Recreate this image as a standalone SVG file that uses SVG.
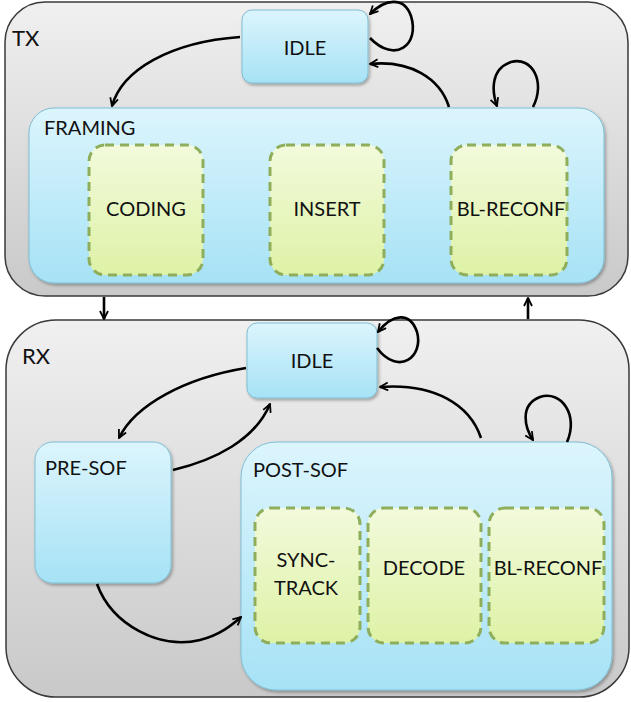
<svg xmlns="http://www.w3.org/2000/svg" width="631" height="702" viewBox="0 0 631 702">
<defs>
  <linearGradient id="gGray" x1="0" y1="0" x2="0" y2="1">
    <stop offset="0" stop-color="#f0f0f0"/>
    <stop offset="1" stop-color="#c9c9c9"/>
  </linearGradient>
  <linearGradient id="gBlue" x1="0" y1="0" x2="0" y2="1">
    <stop offset="0" stop-color="#dcf5fd"/>
    <stop offset="1" stop-color="#a6e2f5"/>
  </linearGradient>
  <linearGradient id="gGreen" x1="0" y1="0" x2="0" y2="1">
    <stop offset="0" stop-color="#f2fadc"/>
    <stop offset="1" stop-color="#def2a6"/>
  </linearGradient>
  <filter id="sh" x="-10%" y="-10%" width="125%" height="125%">
    <feDropShadow dx="1.5" dy="2" stdDeviation="1.5" flood-color="#000" flood-opacity="0.3"/>
  </filter>
  <marker id="ah" viewBox="0 0 10 10" refX="9" refY="5" markerWidth="10" markerHeight="10" markerUnits="userSpaceOnUse" orient="auto">
    <path d="M1,1 L9,5 L1,9" fill="none" stroke="#000" stroke-width="1.8"/>
  </marker>
  <style>
    .cont{fill:url(#gGray);stroke:#3a3a3a;stroke-width:1.5}
    .blue{fill:url(#gBlue);stroke:#7fbfd4;stroke-width:1;filter:url(#sh)}
    .green{fill:url(#gGreen);stroke:#8fae5c;stroke-width:3;stroke-dasharray:9 6}
    .t{font-family:Lato,"Open Sans","Liberation Sans",sans-serif;font-size:20px;fill:#111}
    .tl{font-family:Lato,"Open Sans","Liberation Sans",sans-serif;font-size:22px;fill:#111}
    .c{text-anchor:middle}
    .edge{fill:none;stroke:#000;stroke-width:2.6;marker-end:url(#ah)}
  </style>
</defs>

<g id="tx">
  <rect class="cont" x="5" y="2" width="623" height="294" rx="40"/>
  <text class="tl" x="12" y="46">TX</text>
</g>
<g id="rx">
  <rect class="cont" x="6" y="320" width="623" height="377" rx="50"/>
  <text class="tl" x="22" y="364">RX</text>
</g>

<g id="tx-idle">
  <rect class="blue" x="242" y="10" width="126" height="73" rx="10"/>
  <text class="t c" x="305" y="55">IDLE</text>
</g>
<g id="framing">
  <rect class="blue" x="29" y="108" width="575" height="175" rx="25"/>
  <text class="t" x="44" y="135">FRAMING</text>
</g>
<g id="coding">
  <rect class="green" x="89" y="145" width="114" height="130" rx="16"/>
  <text class="t c" x="146" y="216">CODING</text>
</g>
<g id="insert">
  <rect class="green" x="270" y="145" width="114" height="130" rx="16"/>
  <text class="t c" x="327" y="216">INSERT</text>
</g>
<g id="tx-blreconf">
  <rect class="green" x="451" y="145" width="116" height="130" rx="16"/>
  <text class="t c" x="511" y="216">BL-RECONF</text>
</g>

<g id="rx-idle">
  <rect class="blue" x="247" y="323" width="130" height="75" rx="10"/>
  <text class="t c" x="312" y="368">IDLE</text>
</g>
<g id="pre-sof">
  <rect class="blue" x="35" y="442" width="136" height="141" rx="18"/>
  <text class="t" x="45" y="475">PRE-SOF</text>
</g>
<g id="post-sof">
  <rect class="blue" x="241" y="442" width="371" height="248" rx="35"/>
  <text class="t" x="253" y="477">POST-SOF</text>
</g>
<g id="sync-track">
  <rect class="green" x="255" y="508" width="105" height="135" rx="16"/>
  <text class="t c" x="306" y="567">SYNC-</text>
  <text class="t c" x="306" y="595">TRACK</text>
</g>
<g id="decode">
  <rect class="green" x="368" y="508" width="113" height="135" rx="16"/>
  <text class="t c" x="424" y="575">DECODE</text>
</g>
<g id="rx-blreconf">
  <rect class="green" x="489" y="508" width="115" height="135" rx="16"/>
  <text class="t c" x="548" y="575">BL-RECONF</text>
</g>

<g id="connectors">
  <!-- TX -->
  <path class="edge" d="M370,38 C395,64 420,45 411,16 C404,-4 385,-1 370,14"/>
  <path class="edge" d="M449,107 C440,78 410,60 370,64"/>
  <path class="edge" d="M240,37 C170,42 122,70 112,106"/>
  <path class="edge" d="M533,107 C546,82 532,56 511,62 C490,69 492,92 497,106"/>
  <!-- between -->
  <path class="edge" d="M104,297 L104,319"/>
  <path class="edge" d="M528,319 L528,298"/>
  <!-- RX -->
  <path class="edge" d="M377,348 C399,377 424,356 417,332 C410,311 392,314 378,332"/>
  <path class="edge" d="M481,438 C470,405 435,383 380,387"/>
  <path class="edge" d="M567,442 C579,415 561,390 540,397 C519,405 525,428 533,440"/>
  <path class="edge" d="M246,368 C185,378 135,405 119,438"/>
  <path class="edge" d="M173,470 C215,460 255,440 270,404"/>
  <path class="edge" d="M97,584 C112,625 160,650 200,640 C220,635 232,625 241,617"/>
</g>
</svg>
